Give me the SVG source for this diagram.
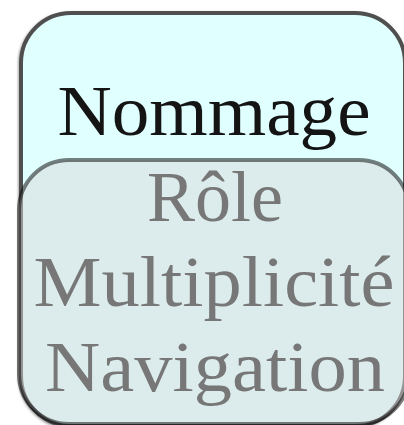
<svg xmlns="http://www.w3.org/2000/svg" width="404" height="425" viewBox="0 0 404 425">
<defs>
<style>
.lbl{font-family:"Liberation Serif","Times New Roman",serif;font-size:72px;text-anchor:middle}
.outer{fill:#e0ffff;stroke:#505050;stroke-width:4}
.inner{fill:#d8d8d8;fill-opacity:0.5;stroke:#000;stroke-opacity:0.5;stroke-width:4}
</style>
<filter id="sh" x="-10%" y="-10%" width="130%" height="130%">
<feDropShadow dx="-1" dy="1" stdDeviation="1.2" flood-color="#000" flood-opacity="0.35"/>
</filter>
</defs>
<rect width="404" height="425" fill="#ffffff"/>
<g id="nommage">
<rect class="outer" x="21" y="13" width="384" height="413" rx="50" ry="50" filter="url(#sh)"/>
<text class="lbl" x="214" y="135" fill="#141414" textLength="313" lengthAdjust="spacingAndGlyphs">Nommage</text>
</g>
<g id="details">
<rect class="inner" x="19" y="160" width="390" height="264" rx="50" ry="50"/>
<text class="lbl" x="215" y="221" fill="#777777">Rôle</text>
<text class="lbl" x="214" y="306" fill="#777777" textLength="361" lengthAdjust="spacingAndGlyphs">Multiplicité</text>
<text class="lbl" x="215" y="391" fill="#777777" textLength="340" lengthAdjust="spacingAndGlyphs">Navigation</text>
</g>
<g id="connectors"></g>
</svg>
